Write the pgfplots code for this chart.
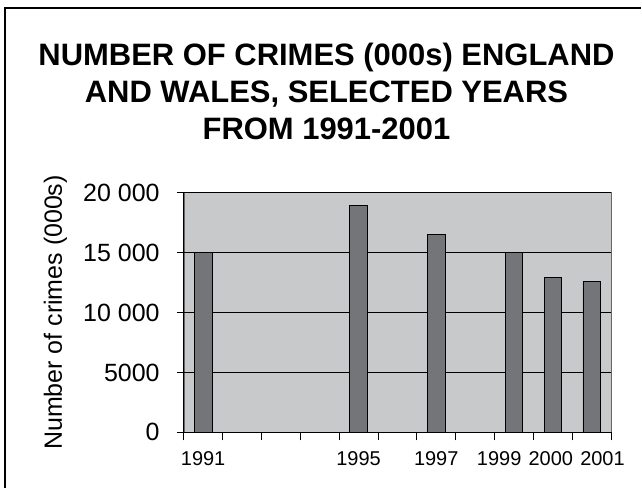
\documentclass[border=0pt]{standalone}
\usepackage{pgfplots}
\pgfplotsset{compat=1.18}
\usepackage{fontspec}
\setmainfont{Liberation Sans}
\definecolor{bgc}{RGB}{200,201,203}
\definecolor{barc}{RGB}{116,117,121}
\begin{document}
\begin{tikzpicture}[x=1pt,y=1pt]
\path (0,0) rectangle (642,489);
\draw[line width=2pt] (5,0) -- (5,480.5) -- (642,480.5);
\node[anchor=north, inner sep=0pt, align=center, font=\fontsize{31}{37.3}\selectfont\bfseries] at (327,446.5)
  {NUMBER OF CRIMES (000s) ENGLAND\\AND WALES, SELECTED YEARS\\FROM 1991-2001};
\begin{axis}[
  at={(184pt,56pt)}, anchor=south west,
  scale only axis, width=428pt, height=240pt,
  xmin=0.5, xmax=11.5, ymin=0, ymax=20000,
  axis x line*=bottom, axis y line*=left,
  axis line style={-, black, line width=0.8pt},
  axis background/.style={fill=bgc, draw=gray!80!black},
  ybar, bar width=17.5pt,
  xtick={1,5,7,8.62,9.95,11.28},
  xticklabels={1991,1995,1997,1999,2000,2001},
  minor xtick={0.5,1.5,...,11.5},
  major x tick style={draw=none},
  minor x tick style={black, line width=0.8pt},
  tick align=outside,
  major tick length=7pt, minor tick length=8pt,
  ytick={0,5000,10000,15000,20000},
  yticklabels={0,5000,10 000,15 000,20 000},
  scaled y ticks=false,
  ymajorgrids, grid style={black, line width=0.6pt},
  y tick style={black, line width=0.8pt},
  /pgf/number format/assume math mode=true,
  xticklabel style={font=\fontsize{20}{24}\selectfont, yshift=-12pt, inner sep=0pt, anchor=north},
  yticklabel style={font=\fontsize{25}{30}\selectfont, inner sep=0pt, anchor=east, xshift=-17pt},
  ylabel={Number of crimes (000s)},
  ylabel style={font=\fontsize{25}{30}\selectfont, at={(axis description cs:0,0.5)}, anchor=base, yshift=122pt},
]
\addplot[fill=barc, draw=black, line width=0.6pt] coordinates {
  (1,15000) (5,18950) (7,16500) (9,15000) (10,12950) (11,12600)
};
\end{axis}
\end{tikzpicture}
\end{document}
